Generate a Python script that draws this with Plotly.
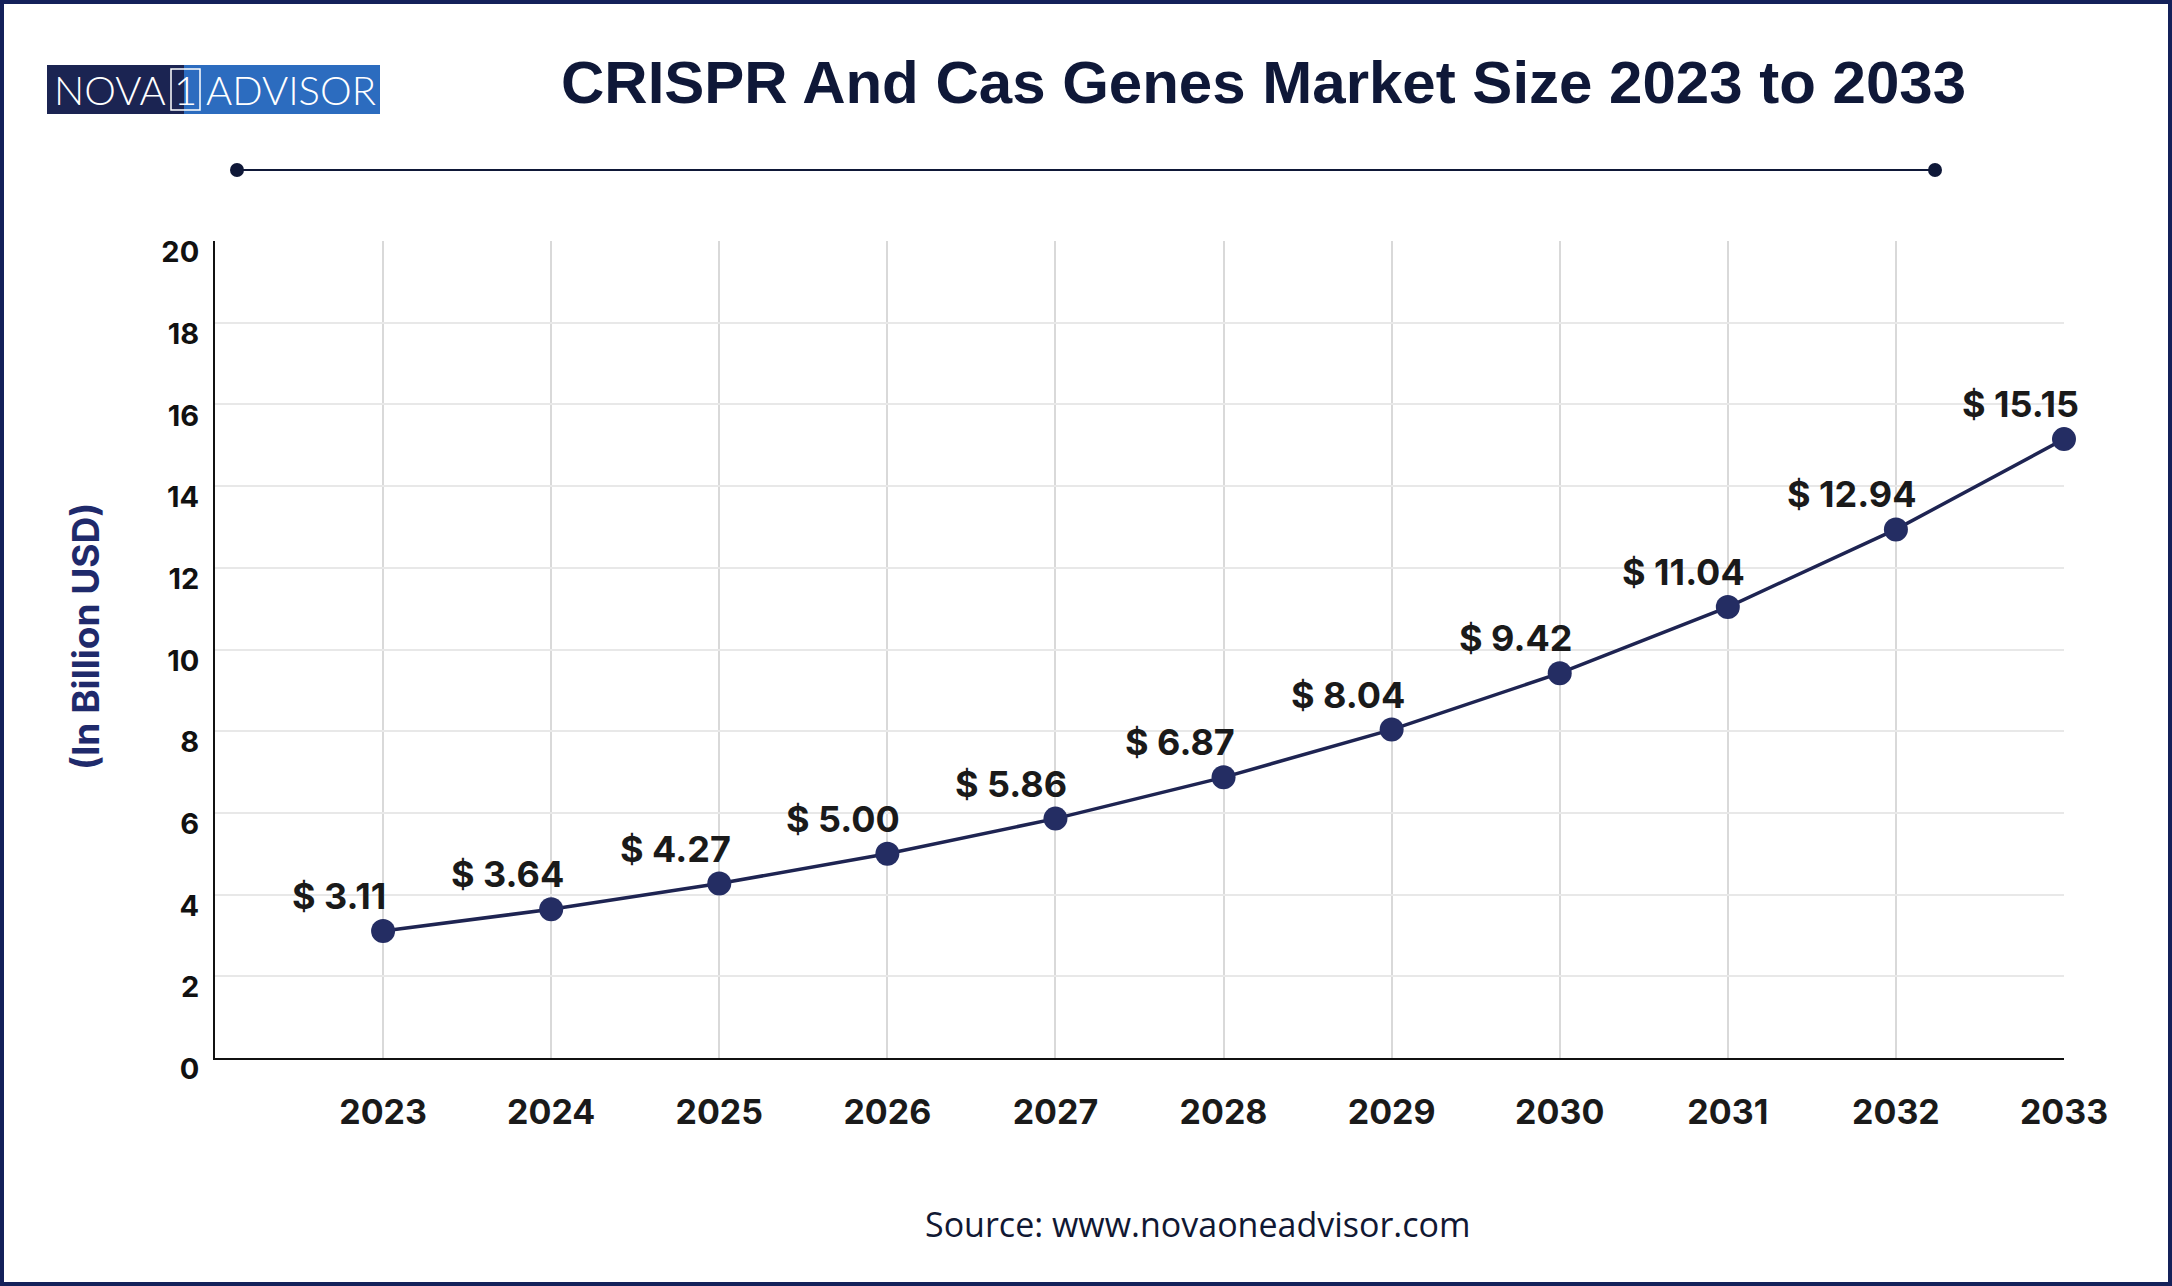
import plotly.graph_objects as go

# ---- data ----
years = [2023, 2024, 2025, 2026, 2027, 2028, 2029, 2030, 2031, 2032, 2033]
market_size = [3.11, 3.64, 4.27, 5.00, 5.86, 6.87, 8.04, 9.42, 11.04, 12.94, 15.15]
year_labels = [str(y) for y in years]
y_ticks = [0, 2, 4, 6, 8, 10, 12, 14, 16, 18, 20]

title_text = "CRISPR And Cas Genes Market Size 2023 to 2033"
y_title = "(In Billion USD)"
source_text = "Source: www.novaoneadvisor.com"

W, H = 2172, 1286
L, R, T, B = 215, 108, 241, 228
PW, PH = W - L - R, H - T - B


def px(x):
    return (x - L) / PW


def py(y):
    return (H - B - y) / PH


NAVY = "#1e2452"
LABEL_FONT = "Inter"

fig = go.Figure()
fig.add_trace(go.Scatter(
    x=years, y=market_size, mode="lines+markers",
    line=dict(color=NAVY, width=3.5),
    marker=dict(size=24, color="#242d63"),
    cliponaxis=False,
    hoverinfo="skip", showlegend=False,
))

annotations = []
for yr, v in zip(years, market_size):
    annotations.append(dict(
        x=yr, y=v, xref="x", yref="y", text=f"$ {v:.2f}", showarrow=False,
        xanchor="center", yanchor="middle", xshift=-44, yshift=35,
        font=dict(family=LABEL_FONT, size=36, color="#1a1a1a", weight="bold"),
    ))

# title
annotations.append(dict(
    x=px(1263), y=py(83), xref="paper", yref="paper", text=title_text,
    showarrow=False, xanchor="center", yanchor="middle",
    font=dict(family="Liberation Sans", size=60, color="#0f1838", weight="bold"),
))
# y-axis title
annotations.append(dict(
    x=px(85), y=py(637), xref="paper", yref="paper", text=y_title,
    showarrow=False, xanchor="center", yanchor="middle", textangle=-90,
    font=dict(family=LABEL_FONT, size=37, color="#1f2a6b", weight="bold"),
))
# source
annotations.append(dict(
    x=px(1198), y=py(1224), xref="paper", yref="paper", text=source_text,
    showarrow=False, xanchor="center", yanchor="middle",
    font=dict(family="Open Sans", size=34, color="#111833"),
))
# logo texts
logo_font = dict(family="Lato", size=40, color="white", weight=300)
annotations.append(dict(x=px(110), y=py(90), xref="paper", yref="paper", text="NOVA",
                        showarrow=False, xanchor="center", yanchor="middle", font=logo_font))
annotations.append(dict(x=px(185.5), y=py(90), xref="paper", yref="paper", text="1",
                        showarrow=False, xanchor="center", yanchor="middle", font=logo_font))
annotations.append(dict(x=px(291), y=py(90), xref="paper", yref="paper", text="ADVISOR",
                        showarrow=False, xanchor="center", yanchor="middle", font=logo_font))

shapes = [
    # outer border
    dict(type="rect", xref="paper", yref="paper", x0=px(2), x1=px(W - 2), y0=py(2), y1=py(H - 2),
         line=dict(color="#14215a", width=4), fillcolor="rgba(0,0,0,0)", layer="above"),
    # logo boxes
    dict(type="rect", xref="paper", yref="paper", x0=px(47), x1=px(184), y0=py(65), y1=py(114),
         line=dict(width=0), fillcolor="#1b2452", layer="below"),
    dict(type="rect", xref="paper", yref="paper", x0=px(184), x1=px(380), y0=py(65), y1=py(114),
         line=dict(width=0), fillcolor="#2c6cbf", layer="below"),
    dict(type="rect", xref="paper", yref="paper", x0=px(171), x1=px(200), y0=py(69), y1=py(110),
         line=dict(color="white", width=1.5), fillcolor="rgba(0,0,0,0)", layer="above"),
    # decorative line under title
    dict(type="line", xref="paper", yref="paper", x0=px(237), x1=px(1935), y0=py(170), y1=py(170),
         line=dict(color="#0f1838", width=2)),
]
for cx in (237, 1935):
    shapes.append(dict(type="circle", xref="paper", yref="paper",
                       xsizemode="pixel", ysizemode="pixel",
                       xanchor=px(cx), yanchor=py(170), x0=-7, x1=7, y0=-7, y1=7,
                       line=dict(width=0), fillcolor="#0f1838"))

fig.update_layout(
    width=W, height=H,
    margin=dict(l=L, r=R, t=T, b=B, pad=0),
    paper_bgcolor="white", plot_bgcolor="white",
    annotations=annotations, shapes=shapes,
    xaxis=dict(
        range=[2022, 2033], tickmode="array", tickvals=years, ticktext=year_labels,
        showgrid=True, gridcolor="#d9d9d9", gridwidth=2,
        showline=True, linecolor="#111111", linewidth=2, zeroline=False,
        ticks="", ticklabelstandoff=23,
        tickfont=dict(family=LABEL_FONT, size=34, color="#1a1a1a", weight="bold"),
        fixedrange=True,
    ),
    yaxis=dict(
        range=[0, 20], tickmode="array", tickvals=y_ticks, ticktext=[str(t) for t in y_ticks],
        showgrid=True, gridcolor="#e8e8e8", gridwidth=2,
        showline=True, linecolor="#111111", linewidth=2, zeroline=False,
        ticks="", ticklabelstandoff=8, ticklabelshift=11,
        tickfont=dict(family=LABEL_FONT, size=29, color="#111111", weight="bold"),
        fixedrange=True,
    ),
)

fig.write_html("out.html", config={"displayModeBar": False},
               post_script="document.body.style.margin='0';document.body.style.overflow='hidden';")
